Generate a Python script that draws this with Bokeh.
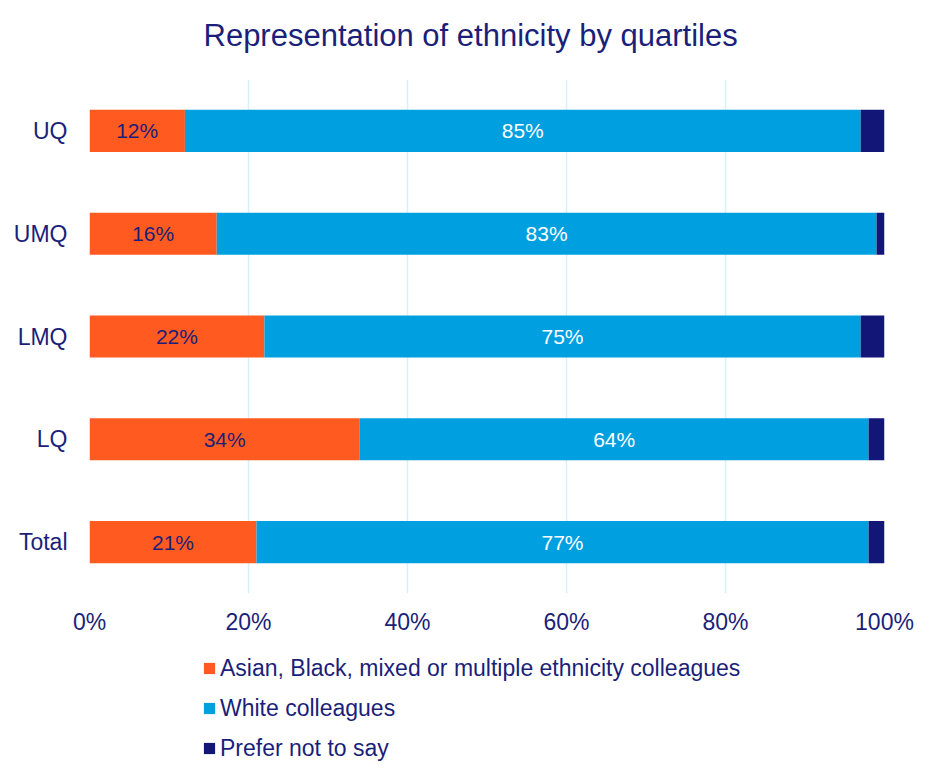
from bokeh.plotting import figure
from bokeh.layouts import column
from bokeh.models import (ColumnDataSource, Range1d, FactorRange, FixedTicker,
                          PrintfTickFormatter, LabelSet, Legend, LegendItem, Title)
from bokeh.core.properties import value
from bokeh.embed import file_html
from bokeh.resources import INLINE

categories = ["UQ", "UMQ", "LMQ", "LQ", "Total"]
minority = [12, 16, 22, 34, 21]
white = [85, 83, 75, 64, 77]
prefer_not = [3, 1, 3, 2, 2]
series_names = ["Asian, Black, mixed or multiple ethnicity colleagues",
                "White colleagues", "Prefer not to say"]
x_ticks = [0, 20, 40, 60, 80, 100]

ORANGE = "#FF5A1F"
BLUE = "#009FDF"
NAVY = "#121677"
TEXT = "#1B1F7A"
FONT = "Liberation Sans"
COLORS = [ORANGE, BLUE, NAVY]

factors = list(reversed(categories))
src = ColumnDataSource(dict(
    cat=categories,
    minority=minority,
    white=white,
    prefer=prefer_not,
    min_mid=[m / 2 for m in minority],
    white_mid=[m + w / 2 for m, w in zip(minority, white)],
    min_lbl=[f"{m}%" for m in minority],
    white_lbl=[f"{w}%" for w in white],
))

p = figure(width=924, height=640, y_range=FactorRange(*factors, range_padding=0),
           x_range=Range1d(0, 100), output_backend="svg", toolbar_location=None,
           min_border_left=89, min_border_right=40, min_border_top=79,
           min_border_bottom=47)
p.outline_line_color = None
p.background_fill_color = "white"

p.hbar_stack(["minority", "white", "prefer"], y="cat", height=0.41,
             color=COLORS, source=src, line_width=0)

p.add_layout(LabelSet(x="min_mid", y="cat", text="min_lbl", source=src,
                      text_align="center", text_baseline="middle",
                      text_color=TEXT, text_font_size="21px", text_font=value(FONT)))
p.add_layout(LabelSet(x="white_mid", y="cat", text="white_lbl", source=src,
                      text_align="center", text_baseline="middle",
                      text_color="white", text_font_size="21px", text_font=value(FONT)))

p.xaxis.ticker = FixedTicker(ticks=x_ticks)
p.xaxis.formatter = PrintfTickFormatter(format="%d%%")
for ax in (p.xaxis[0], p.yaxis[0]):
    ax.axis_line_color = None
    ax.major_tick_line_color = None
    ax.minor_tick_line_color = None
    ax.major_tick_out = 0
    ax.major_tick_in = 0
    ax.minor_tick_out = 0
    ax.minor_tick_in = 0
    ax.major_label_text_color = TEXT
    ax.major_label_text_font = FONT
    ax.major_label_text_font_size = "23px"
p.xaxis.major_label_standoff = 15
p.yaxis.major_label_standoff = 22

p.xgrid.ticker = FixedTicker(ticks=x_ticks)
p.xgrid.grid_line_color = "#D6F1FC"
p.xgrid.grid_line_width = 1.5
p.ygrid.grid_line_color = None

# real title (outermost), with a blank spacer panel between it and the frame
p.title = Title(text="Representation of ethnicity by quartiles", align="left",
                offset=114, text_font=FONT, text_font_size="31px",
                text_color=TEXT, text_font_style="normal", standoff=0)
p.add_layout(Title(text="\u00a0", text_font_size="1px", standoff=24), "above")

# legend panel below the chart
lg = figure(width=924, height=123, x_range=Range1d(0, 1), y_range=Range1d(0, 1),
            output_backend="svg", toolbar_location=None,
            x_axis_location=None, y_axis_location=None,
            min_border_left=0, min_border_right=0, min_border_top=0, min_border_bottom=0)
lg.outline_line_color = None
lg.grid.visible = False
nan = float("nan")
proxies = [lg.hbar(y=[nan], right=[nan], height=0.5, color=c, line_width=0) for c in COLORS]
legend = Legend(items=[LegendItem(label=n, renderers=[r]) for n, r in zip(series_names, proxies)],
                location=(113, 0), orientation="vertical",
                label_text_font=FONT, label_text_font_size="23px", label_text_color=TEXT,
                glyph_width=14, glyph_height=14, label_standoff=4, label_height=30,
                spacing=10, padding=0, margin=0, border_line_color=None,
                background_fill_alpha=0)
lg.add_layout(legend, "center")

layout = column(p, lg, spacing=0)
open("out.html", "w").write(file_html(layout, INLINE))
